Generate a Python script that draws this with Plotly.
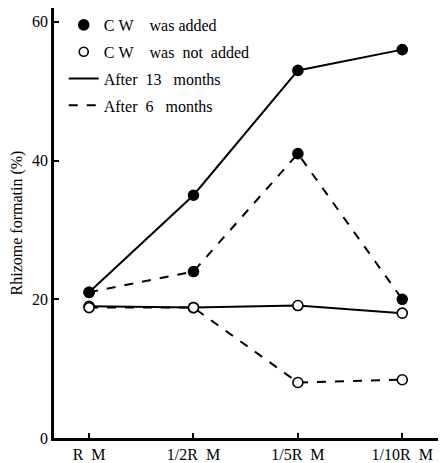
import plotly.graph_objects as go

categories = ["R\u00a0 M", "1/2R\u00a0 M", "1/5R\u00a0 M", "1/10R\u00a0 M"]
x_idx = [0, 1, 2, 3]
cw_added_13 = [21, 35, 53, 56]
cw_added_6 = [21, 24, 41, 20]
cw_not_13 = [19, 18.8, 19.1, 18]
cw_not_6 = [18.8, 18.8, 8, 8.4]
y_ticks = [0, 20, 40, 60]

FONT = "Liberation Serif"
fig = go.Figure()

def series(y, filled, dash):
    fig.add_trace(go.Scatter(
        x=x_idx, y=y, mode="lines+markers", showlegend=False,
        line=dict(color="black", width=2, dash=dash),
        marker=dict(size=10, color="black" if filled else "white",
                    line=dict(color="black", width=1.6), symbol="circle"),
        cliponaxis=False))

series(cw_not_13, False, "solid")
series(cw_not_6, False, "dash")
series(cw_added_13, True, "solid")
series(cw_added_6, True, "dash")

# legend-only entries
fig.add_trace(go.Scatter(x=[None], y=[None], mode="markers", name="C\u00a0W\u00a0\u00a0\u00a0 was added",
                         marker=dict(size=10, color="black", line=dict(color="black", width=1.6)), legendgroup="a"))
fig.add_trace(go.Scatter(x=[None], y=[None], mode="markers", name="C\u00a0W\u00a0\u00a0\u00a0 was\u00a0 not\u00a0 added",
                         marker=dict(size=9, color="white", line=dict(color="black", width=1.6)), legendgroup="b"))
fig.add_trace(go.Scatter(x=[None], y=[None], mode="lines", name="After\u00a0 13\u00a0\u00a0 months",
                         line=dict(color="black", width=2), legendgroup="c"))
fig.add_trace(go.Scatter(x=[None], y=[None], mode="lines", name="After\u00a0 6\u00a0\u00a0 months",
                         line=dict(color="black", width=2, dash="dash"), legendgroup="d"))

fig.update_layout(
    width=438, height=455,
    margin=dict(l=46, r=3, t=0, b=25),
    paper_bgcolor="white", plot_bgcolor="white",
    font=dict(family=FONT, color="black", size=15),
    showlegend=True,
    legend=dict(x=0.025, y=1.0, xanchor="left", yanchor="top",
                bgcolor="rgba(0,0,0,0)",
                font=dict(size=16, family=FONT), tracegroupgap=3, itemwidth=30),
    xaxis=dict(range=[-0.336, 3.39], tickvals=x_idx, ticktext=categories, showgrid=False,
               zeroline=False, showline=True, linecolor="black", linewidth=2.5,
               ticks="inside", ticklen=5, tickcolor="black", tickwidth=1.5,
               tickfont=dict(size=16, family=FONT)),
    yaxis=dict(range=[0, 62.0], tickvals=y_ticks, showgrid=False, zeroline=False,
               showline=True, linecolor="black", linewidth=2.5,
               ticks="inside", ticklen=5, tickcolor="black", tickwidth=1.5,
               tickfont=dict(size=16, family=FONT),
               title=dict(text="Rhizome formatin (%)", font=dict(size=16, family=FONT), standoff=6)),
)

fig.write_html("out.html")
